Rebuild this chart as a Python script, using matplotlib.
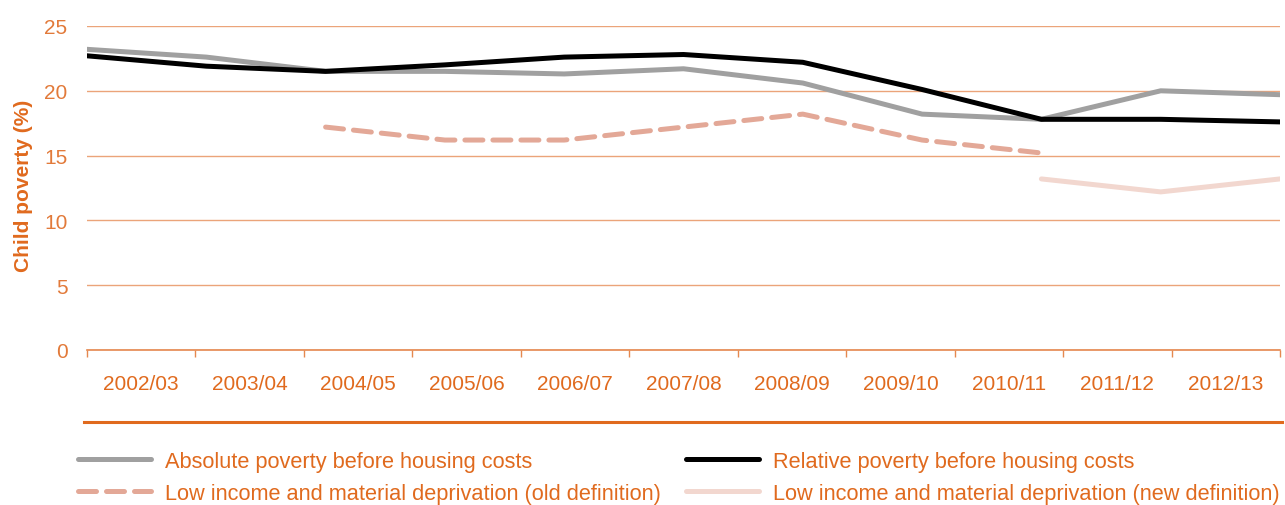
import matplotlib
matplotlib.use('Agg')
import matplotlib.pyplot as plt
import numpy as np
from matplotlib.lines import Line2D

plt.rcParams['font.family'] = ['Liberation Sans', 'DejaVu Sans']

ORANGE = '#E06A1E'
ORANGE_LIGHT = '#E5884F'
GRID = '#EBA47A'

years = ['2002/03', '2003/04', '2004/05', '2005/06', '2006/07', '2007/08',
         '2008/09', '2009/10', '2010/11', '2011/12', '2012/13']
absolute_bhc = [23.2, 22.6, 21.5, 21.5, 21.3, 21.7, 20.6, 18.2, 17.8, 20.0, 19.7]
relative_bhc = [22.7, 21.9, 21.5, 22.0, 22.6, 22.8, 22.2, 20.1, 17.8, 17.8, 17.6]
lim_old = [None, None, 17.2, 16.2, 16.2, 17.2, 18.2, 16.2, 15.2, None, None]
lim_new = [None, None, None, None, None, None, None, None, 13.2, 12.2, 13.2]

def to_arr(vals):
    return np.array([np.nan if v is None else v for v in vals], dtype=float)

n = len(years)
# lines run edge to edge across the category axis
xpos = np.linspace(0, n, n)

fig = plt.figure(figsize=(12.85, 5.06), dpi=100)
ax = fig.add_axes([87 / 1285, 1 - 351 / 506, (1280 - 87) / 1285, 324 / 506])

ax.plot(xpos, to_arr(absolute_bhc), color='#A0A0A0', lw=3.6, solid_capstyle='round',
        label='Absolute poverty before housing costs', zorder=3)
ax.plot(xpos, to_arr(lim_old), color='#E3A897', lw=3.6, dashes=(3.6, 2.0),
        dash_capstyle='round', label='Low income and material deprivation (old definition)', zorder=3)
ax.plot(xpos, to_arr(relative_bhc), color='#000000', lw=3.6, solid_capstyle='round',
        label='Relative poverty before housing costs', zorder=4)
ax.plot(xpos, to_arr(lim_new), color='#F2D7CF', lw=3.6, solid_capstyle='round',
        label='Low income and material deprivation (new definition)', zorder=3)

ax.set_xlim(0, n)
ax.set_ylim(0, 25)
ax.set_yticks([0, 5, 10, 15, 20, 25])
ax.yaxis.grid(True, color=GRID, lw=1.0)
ax.set_axisbelow(True)

for s in ['top', 'right', 'left']:
    ax.spines[s].set_visible(False)
ax.spines['bottom'].set_color(ORANGE_LIGHT)
ax.spines['bottom'].set_linewidth(1.2)

ax.set_xticks(np.arange(n + 1))
ax.set_xticklabels([])
ax.set_xticks(np.arange(n) + 0.5, minor=True)
ax.set_xticklabels(years, minor=True)
ax.tick_params(axis='x', which='major', direction='out', length=5, width=1.0, color=ORANGE_LIGHT)
ax.tick_params(axis='x', which='minor', length=0, pad=17, labelsize=15, labelcolor=ORANGE)
ax.tick_params(axis='y', length=0, pad=14, labelsize=15, labelcolor='#E27A3A')

ax.set_ylabel('Child poverty (%)', fontsize=15, fontweight='bold', color=ORANGE)
ax.yaxis.set_label_coords(-0.045, 0.51)

# separator line under the category labels
fig.add_artist(Line2D([84 / 1285, 1282 / 1285], [1 - 423 / 506, 1 - 423 / 506],
                      color=ORANGE, lw=2.2, transform=fig.transFigure))

handles, labels = ax.get_legend_handles_labels()
leg = fig.legend(handles, labels, loc='upper left', ncol=2, frameon=False,
                 bbox_to_anchor=(69 / 1285, 1 - 443 / 506), fontsize=15.7,
                 handlelength=3.35, handletextpad=0.63, columnspacing=1.18,
                 labelspacing=0.5, borderaxespad=0)
for t in leg.get_texts():
    t.set_color(ORANGE)

fig.savefig('out.png', dpi=100)
